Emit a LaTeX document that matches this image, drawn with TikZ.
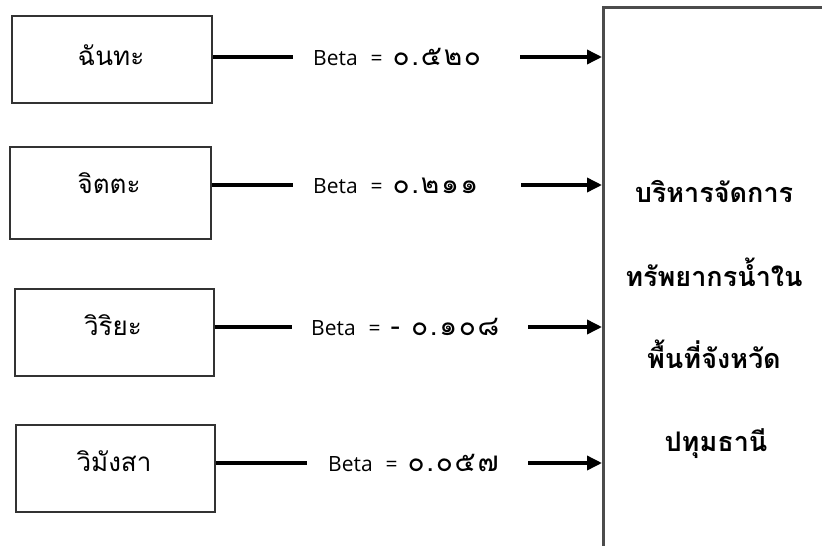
\documentclass[tikz,border=0pt]{standalone}
\usepackage{fontspec}
\newfontfamily\thai[Script=Thai]{Loma}
\newfontfamily\thaidig[Script=Thai,LetterSpace=6]{Loma}
\newfontfamily\latin{Open Sans}
\usetikzlibrary{arrows.meta}
\newcommand{\betalab}[1]{{\latin Beta}\hspace{13pt}={\hspace{10pt}}{\thaidig\fontsize{28}{30}\selectfont #1}}
\begin{document}
\begin{tikzpicture}[x=1pt,y=-1pt,
  varbox/.style={draw=black!80, line width=1.7pt, inner sep=0pt},
  vtext/.style={font=\thai\fontsize{26}{30}\selectfont, inner sep=0pt, anchor=base},
  beta/.style={font=\latin\fontsize{21}{24}\selectfont, inner sep=0pt, anchor=base west},
  mtext/.style={font=\thai\bfseries\fontsize{27}{31}\selectfont, inner sep=0pt, anchor=base},
  link/.style={line width=3.5pt},
  arr/.style={line width=3.5pt, -{Triangle[length=15pt,width=14pt]}}]
\useasboundingbox (0,0) rectangle (822,546);
\clip (0,0) rectangle (822,546);
% outcome box (extends past the picture)
\node[draw=black!70, line width=2.5pt, inner sep=0pt, minimum width=300pt, minimum height=600pt, anchor=north west] (big) at (602,6) {};
\node[mtext] (m1) at (714,202) {บริหารจัดการ};
\node[mtext] (m2) at (714,286) {ทรัพยากรน้ำใน};
\node[mtext] (m3) at (714,368) {พื้นที่จังหวัด};
\node[mtext] (m4) at (716,451) {ปทุมธานี};
% variable boxes
\node[varbox, minimum width=200pt, minimum height=87pt] (b1) at (112,59.5) {};
\node[varbox, minimum width=201pt, minimum height=92pt] (b2) at (110.5,193) {};
\node[varbox, minimum width=199pt, minimum height=87pt] (b3) at (114.5,332.5) {};
\node[varbox, minimum width=199pt, minimum height=87pt] (b4) at (115.5,468.5) {};
\node[vtext] (t1) at (111,65) {ฉันทะ};
\node[vtext] (t2) at (109,193) {จิตตะ};
\node[vtext] (t3) at (113,335) {วิริยะ};
\node[vtext] (t4) at (114,471) {วิมังสา};
% beta labels
\node[beta] (l1) at (313,65) {\betalab{๐.๕๒๐}};
\node[beta] (l2) at (313,193) {\betalab{๐.๒๑๑}};
\node[beta] (l3) at (311,335) {\betalab{- ๐.๑๐๘}};
\node[beta] (l4) at (328,471) {\betalab{๐.๐๕๗}};
% connector ends
\coordinate (a1) at (293,57);  \coordinate (c1) at (520,57);
\coordinate (a2) at (293,185); \coordinate (c2) at (521,185);
\coordinate (a3) at (292,327); \coordinate (c3) at (528,327);
\coordinate (a4) at (307,463); \coordinate (c4) at (528,463);
\draw[link] (b1.east |- a1) -- (a1);
\draw[link] (b2.east |- a2) -- (a2);
\draw[link] (b3.east |- a3) -- (a3);
\draw[link] (b4.east |- a4) -- (a4);
\draw[arr] (c1) -- (c1 -| big.west);
\draw[arr] (c2) -- (c2 -| big.west);
\draw[arr] (c3) -- (c3 -| big.west);
\draw[arr] (c4) -- (c4 -| big.west);
\end{tikzpicture}
\end{document}
